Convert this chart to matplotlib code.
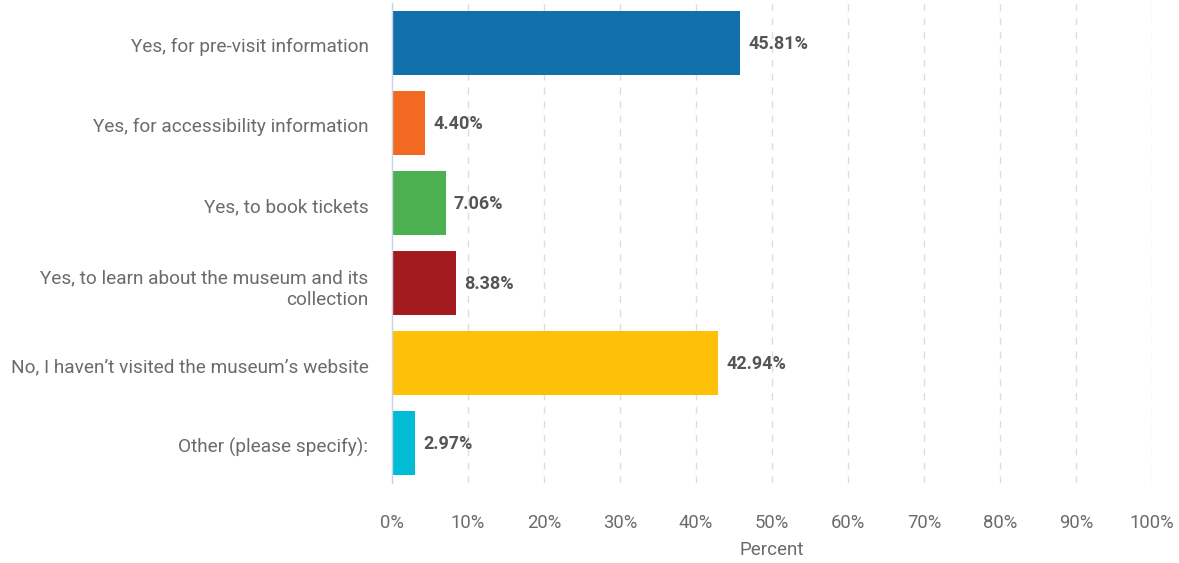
import matplotlib
matplotlib.use("Agg")
import matplotlib.pyplot as plt
import matplotlib.transforms as mtransforms
from matplotlib.ticker import FuncFormatter

categories = [
    "Yes, for pre-visit information",
    "Yes, for accessibility information",
    "Yes, to book tickets",
    "Yes, to learn about the museum and its\ncollection",
    "No, I haven\u2019t visited the museum\u2019s website",
    "Other (please specify):",
]
values = [45.81, 4.40, 7.06, 8.38, 42.94, 2.97]
colors = ["#1170AA", "#F26A22", "#4CAF50", "#A31B1F", "#FFC107", "#00BCD4"]
xticks = [0, 10, 20, 30, 40, 50, 60, 70, 80, 90, 100]

plt.rcParams['font.family'] = ['Roboto', 'DejaVu Sans']

fig = plt.figure(figsize=(11.79, 5.63), dpi=100)
ax = fig.add_axes([392/1179, 1-483/563, (1152-392)/1179, 480/563])

y = list(range(len(categories)))
ax.barh(y, values, height=0.8, color=colors, zorder=3)
ax.set_ylim(len(categories) - 0.5, -0.5)
ax.set_xlim(0, 100)

for yi, v in zip(y, values):
    ax.annotate(f"{v:.2f}%", xy=(v, yi), xytext=(6, -1), textcoords="offset points",
                ha="left", va="center", fontsize=13, fontweight="bold", color="#555555")

ax.set_yticks(y)
ax.set_yticklabels(categories, fontsize=13.7, color="#6b6b6b", ha="right", linespacing=1.3)
ax.tick_params(axis="y", length=0, pad=17)
offset = mtransforms.ScaledTranslation(0, -2/100, fig.dpi_scale_trans)
for lab in ax.get_yticklabels():
    lab.set_transform(lab.get_transform() + offset)

ax.set_xticks(xticks)
ax.xaxis.set_major_formatter(FuncFormatter(lambda x, p: f"{int(x)}%"))
ax.tick_params(axis="x", length=0, pad=22, labelsize=13.3, labelcolor="#6b6b6b")
ax.set_xlabel("Percent", fontsize=13.5, color="#6b6b6b", labelpad=7)

ax.grid(axis="x", color="#dddddd", linestyle=(0, (5, 5)), linewidth=1, zorder=0)
for s in ["top", "right", "bottom"]:
    ax.spines[s].set_visible(False)
ax.spines["left"].set_color("#c8d4ec")
ax.spines["left"].set_linewidth(1)
ax.spines["left"].set_zorder(4)

fig.savefig("out.png", dpi=100)
